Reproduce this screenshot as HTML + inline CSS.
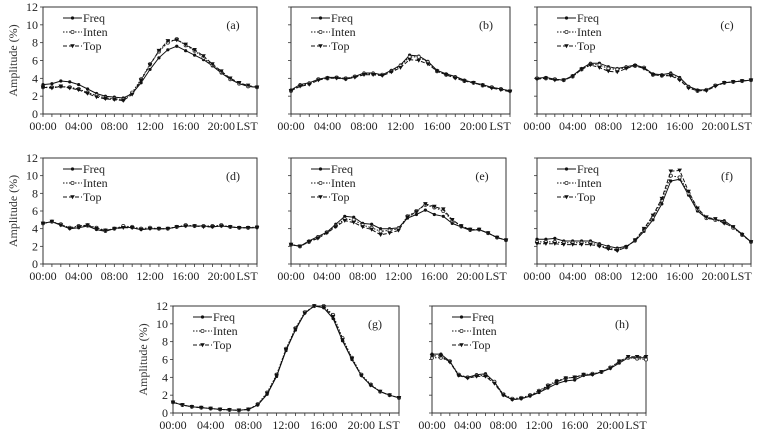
<!DOCTYPE html>
<html><head><meta charset="utf-8"><style>
body{margin:0;background:#fff;}
svg{display:block;font-family:"Liberation Serif",serif;}
</style></head><body>
<svg id="chart" width="769" height="434"></svg>
<script>
const hours=[0,1,2,3,4,5,6,7,8,9,10,11,12,13,14,15,16,17,18,19,20,21,22,23,24];
const xTickLabels=["00:00","04:00","08:00","12:00","16:00","20:00","LST"];
const yTickLabels=[0,2,4,6,8,10,12];
const seriesNames=["Freq","Inten","Top"];
const panelLabels=["(a)","(b)","(c)","(d)","(e)","(f)","(g)","(h)"];
const freqA=[3.3,3.4,3.7,3.6,3.3,2.8,2.3,2.0,1.9,1.8,2.3,3.5,5.0,6.3,7.2,7.6,7.1,6.6,6.1,5.4,4.6,3.9,3.4,3.1,3.0];
const intenA=[3.0,3.0,3.1,3.0,2.8,2.4,2.1,1.8,1.7,1.6,2.4,3.9,5.6,7.0,8.0,8.4,7.7,7.1,6.3,5.5,4.7,3.9,3.4,3.1,3.0];
const topA=[3.0,2.9,3.1,2.9,2.7,2.3,1.9,1.7,1.6,1.5,2.2,3.8,5.5,7.1,8.2,8.3,7.8,7.2,6.5,5.6,4.8,4.0,3.5,3.2,3.0];
const freqB=[2.7,3.3,3.5,3.9,4.1,4.1,3.9,4.2,4.6,4.6,4.4,4.9,5.5,6.6,6.5,5.9,4.9,4.5,4.2,3.8,3.5,3.3,3.0,2.8,2.6];
const intenB=[2.6,3.2,3.4,3.9,4.0,4.1,4.0,4.2,4.5,4.5,4.4,4.8,5.4,6.4,6.4,5.8,4.8,4.4,4.1,3.7,3.5,3.2,3.0,2.8,2.6];
const topB=[2.6,3.1,3.3,3.8,4.0,4.0,3.9,4.1,4.4,4.4,4.3,4.7,5.2,6.1,6.0,5.6,4.8,4.4,4.0,3.7,3.5,3.2,2.9,2.7,2.5];
const freqC=[4.0,4.1,3.9,3.8,4.3,5.1,5.7,5.7,5.3,5.1,5.3,5.5,5.2,4.5,4.4,4.6,4.1,3.1,2.7,2.7,3.2,3.5,3.6,3.7,3.8];
const intenC=[4.0,4.0,3.9,3.8,4.2,5.0,5.6,5.5,5.1,5.0,5.2,5.4,5.2,4.4,4.3,4.4,3.9,3.0,2.6,2.7,3.2,3.5,3.6,3.7,3.8];
const topC=[3.9,4.0,3.8,3.8,4.2,5.0,5.5,5.2,4.8,4.7,5.1,5.4,5.1,4.4,4.3,4.3,3.8,2.9,2.6,2.6,3.1,3.5,3.6,3.7,3.8];
const freqD=[4.6,4.8,4.4,4.0,4.1,4.3,3.9,3.7,4.0,4.2,4.1,3.9,4.0,4.0,4.0,4.2,4.3,4.3,4.3,4.2,4.3,4.2,4.1,4.1,4.1];
const intenD=[4.6,4.8,4.5,4.1,4.3,4.4,4.1,3.8,4.0,4.3,4.2,4.0,4.1,4.0,4.0,4.2,4.4,4.3,4.3,4.3,4.4,4.2,4.1,4.1,4.2];
const topD=[4.6,4.8,4.4,4.0,4.2,4.4,4.0,3.8,4.0,4.1,4.1,3.9,4.0,4.0,4.0,4.2,4.3,4.3,4.2,4.2,4.3,4.2,4.1,4.1,4.1];
const freqE=[2.2,2.0,2.6,3.1,3.6,4.5,5.4,5.3,4.6,4.5,4.0,4.0,4.1,5.2,5.6,6.1,5.6,5.4,4.6,4.2,3.8,3.9,3.5,3.0,2.7];
const intenE=[2.2,2.0,2.5,3.0,3.6,4.3,5.1,5.0,4.4,4.1,3.7,3.8,4.0,5.4,6.0,6.7,6.4,6.0,4.9,4.3,3.9,3.9,3.5,3.0,2.7];
const topE=[2.2,2.0,2.5,2.9,3.5,4.2,4.9,4.7,4.2,3.9,3.3,3.5,3.8,5.3,5.9,6.8,6.5,6.2,5.0,4.3,3.9,3.9,3.5,3.0,2.7];
const freqF=[2.8,2.8,2.9,2.6,2.6,2.6,2.6,2.3,2.0,1.8,2.0,2.6,3.7,5.0,6.8,9.4,9.6,7.8,6.0,5.2,5.0,4.9,4.2,3.4,2.5];
const intenF=[2.5,2.5,2.5,2.4,2.4,2.4,2.4,2.1,1.8,1.6,1.9,2.7,3.9,5.3,7.2,10.0,9.8,8.0,6.2,5.2,5.0,4.7,4.1,3.3,2.5];
const topF=[2.3,2.3,2.3,2.2,2.2,2.2,2.2,2.0,1.7,1.5,1.9,2.7,4.0,5.5,7.4,10.5,10.6,8.2,6.3,5.3,5.1,4.6,4.2,3.3,2.5];
const freqG=[1.2,0.9,0.7,0.6,0.5,0.4,0.35,0.3,0.4,0.9,2.1,4.1,7.0,9.3,11.2,12.0,11.8,10.6,8.1,6.0,4.2,3.1,2.4,2.0,1.7];
const intenG=[1.2,0.9,0.7,0.6,0.5,0.4,0.35,0.3,0.4,1.0,2.3,4.3,7.2,9.5,11.3,12.0,12.0,11.0,8.4,6.2,4.3,3.2,2.4,2.0,1.7];
const topG=[1.2,0.9,0.7,0.6,0.5,0.4,0.35,0.3,0.4,0.9,2.2,4.2,7.1,9.4,11.2,12.0,11.9,10.8,8.2,6.1,4.2,3.1,2.4,2.0,1.7];
const freqH=[6.6,6.6,5.8,4.2,4.0,4.3,4.4,3.5,2.0,1.5,1.6,1.9,2.3,2.8,3.3,3.6,3.7,4.2,4.3,4.6,5.0,5.6,6.2,6.2,6.2];
const intenH=[6.2,6.2,5.8,4.3,4.0,4.2,4.2,3.5,2.1,1.6,1.7,2.0,2.5,3.1,3.6,3.9,4.0,4.3,4.4,4.6,5.1,5.8,6.2,6.1,6.0];
const topH=[6.4,6.4,5.7,4.2,3.9,4.1,4.1,3.3,2.0,1.5,1.6,1.9,2.4,3.0,3.5,3.9,4.0,4.3,4.3,4.6,5.0,5.8,6.3,6.3,6.3];
const seriesData=[[freqA,intenA,topA],[freqB,intenB,topB],[freqC,intenC,topC],[freqD,intenD,topD],[freqE,intenE,topE],[freqF,intenF,topF],[freqG,intenG,topG],[freqH,intenH,topH]];
const boxes=[[43,257,7,114,true],[291,510,7,114,false],[537,751,7,114,false],[43,257,158,264,true],[291,506,158,264,false],[537,751,158,264,false],[173,399,306,413,true],[432,646,306,413,false]];

const NS="http://www.w3.org/2000/svg";
const svg=document.getElementById('chart');
function mk(t,a,p){const e=document.createElementNS(NS,t);for(const k in a)e.setAttribute(k,a[k]);(p||svg).appendChild(e);return e;}
const styles=[{dash:"",mk:"dot"},{dash:"1.5,1.5",mk:"open"},{dash:"4,2",mk:"tri"}];
function marker(g,x,y,type){
  let m;
  if(type==="dot")m=mk('circle',{cx:x,cy:y,r:1.6,fill:'#111'},g);
  else if(type==="open")m=mk('circle',{cx:x,cy:y,r:1.6,fill:'#fff',stroke:'#333','stroke-width':0.8},g);
  else m=mk('path',{d:`M${x-2.3},${y-1.8}L${x+2.3},${y-1.8}L${x},${y+2.2}Z`,fill:'#111'},g);
  
  
}
boxes.forEach((b,pi)=>{
  const [x0,x1,y0,y1,showY]=b;
  const g=mk('g',{});
  
  
  const xs=h=>x0+(x1-x0)*h/24;
  const ys=v=>y1-(y1-y0)*v/12;
  const frame=mk('rect',{x:x0,y:y0,width:x1-x0,height:y1-y0,fill:'none',stroke:'#333','stroke-width':1},g);
  
  
  for(let h=0;h<=24;h++)mk('line',{x1:xs(h),x2:xs(h),y1:y1,y2:y1+3,stroke:'#333','stroke-width':0.8},g);
  yTickLabels.forEach(v=>{mk('line',{x1:x0-3,x2:x0,y1:ys(v),y2:ys(v),stroke:'#333','stroke-width':0.8},g);
    if(showY){const t=mk('text',{x:x0-5,y:ys(v)+4,'text-anchor':'end','font-size':12,fill:'#222'},g);t.textContent=v;
      
      }});
  xTickLabels.forEach((l,i)=>{const h=i*4;const t=mk('text',{x:i===6?xs(h)-10:xs(h),y:y1+16,'text-anchor':'middle','font-size':12,fill:'#222'},g);t.textContent=l;
    
    });
  if(showY){const t=mk('text',{x:0,y:0,transform:`translate(${x0-26},${(y0+y1)/2}) rotate(-90)`,'text-anchor':'middle','font-size':12,fill:'#333'},g);t.textContent="Amplitude (%)";
    
    }
  const pl=mk('text',{x:x1-24,y:y0+22,'text-anchor':'middle','font-size':12,fill:'#222'},g);pl.textContent=panelLabels[pi];
  
  
  seriesData[pi].forEach((arr,si)=>{
    const s=styles[si];
    const d=arr.map((v,i)=>(i?'L':'M')+xs(hours[i]).toFixed(1)+','+ys(v).toFixed(1)).join('');
    const p=mk('path',{d:d,fill:'none',stroke:'#111','stroke-width':1,'stroke-dasharray':s.dash},g);
    
    
    arr.forEach((v,i)=>marker(g,xs(hours[i]),ys(v),s.mk));
    const ly=y0+11+si*14;
    const ll=mk('line',{x1:x0+20,x2:x0+39,y1:ly,y2:ly,stroke:'#111','stroke-width':1,'stroke-dasharray':s.dash},g);
    
    
    marker(g,x0+29.5,ly,s.mk);
    const lt=mk('text',{x:x0+40,y:ly+4,'font-size':12,fill:'#222'},g);lt.textContent=seriesNames[si];
    
    
  });
});
</script>
</body></html>
